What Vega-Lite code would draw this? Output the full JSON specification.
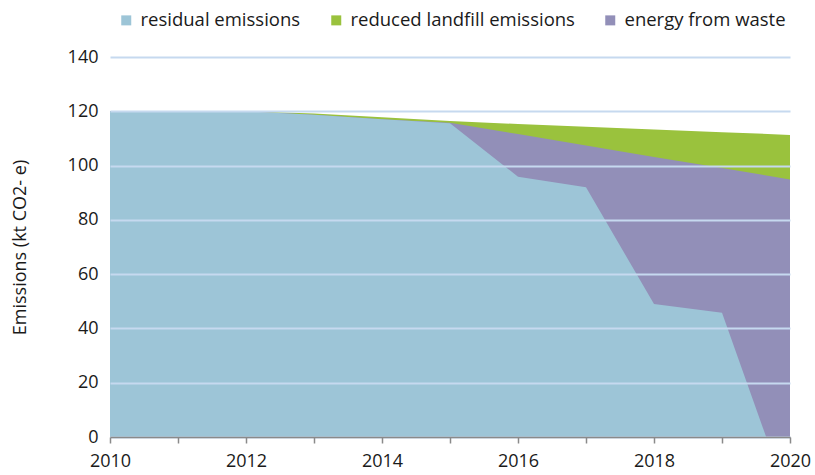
{
  "$schema": "https://vega.github.io/schema/vega-lite/v6.json",
  "width": 680,
  "height": 380,
  "autosize": {"type": "none"},
  "padding": {"left": 110, "top": 57, "right": 25, "bottom": 38},
  "background": "white",
  "config": {
    "font": "Open Sans",
    "view": {"stroke": null},
    "axis": {"labelFont": "Open Sans", "titleFont": "Open Sans", "labelColor": "#1a1a1a", "titleColor": "#1a1a1a"},
    "legend": {"labelFont": "Open Sans"}
  },
  "data": {
    "values": [
      {"year": 2010, "residual": 120, "energy": 120, "total": 120},
      {"year": 2011, "residual": 120, "energy": 120, "total": 120},
      {"year": 2012, "residual": 120, "energy": 120, "total": 120},
      {"year": 2013, "residual": 118.7, "energy": 118.7, "total": 119.2},
      {"year": 2014, "residual": 117.1, "energy": 117.1, "total": 117.8},
      {"year": 2015, "residual": 115.6, "energy": 115.8, "total": 116.4},
      {"year": 2016, "residual": 95.9, "energy": 111.6, "total": 115.3},
      {"year": 2017, "residual": 92.0, "energy": 107.4, "total": 114.3},
      {"year": 2018, "residual": 49.0, "energy": 103.2, "total": 113.3},
      {"year": 2019, "residual": 45.8, "energy": 99.1, "total": 112.3},
      {"year": 2020, "residual": -24.7, "energy": 94.9, "total": 111.3}
    ]
  },
  "encoding": {
    "x": {
      "field": "year",
      "type": "quantitative",
      "scale": {"domain": [2010, 2020], "nice": false, "zero": false},
      "axis": {
        "title": null,
        "values": [2010, 2011, 2012, 2013, 2014, 2015, 2016, 2017, 2018, 2019, 2020],
        "labelExpr": "datum.value % 2 == 0 ? format(datum.value, 'd') : ''",
        "labelFontSize": 18,
        "labelPadding": 9,
        "labelOverlap": false,
        "labelFlush": false,
        "grid": false,
        "domainColor": "#8a8a8a",
        "domainWidth": 1.5,
        "tickColor": "#8a8a8a",
        "tickWidth": 1.5,
        "tickSize": 6,
        "zindex": 2
      }
    }
  },
  "layer": [
    {
      "mark": {"type": "area", "clip": true},
      "encoding": {
        "y": {
          "field": "total",
          "type": "quantitative",
          "scale": {"domain": [0, 140], "nice": false},
          "axis": {
            "title": "Emissions (kt CO2- e)",
            "titleFontSize": 18,
            "titleFontWeight": "normal",
            "titlePadding": 38,
            "values": [0, 20, 40, 60, 80, 100, 120, 140],
            "labelFontSize": 18,
            "labelPadding": 12,
            "domain": false,
            "ticks": false,
            "grid": true,
            "gridColor": "#c6d9ef",
            "gridWidth": 2,
            "zindex": 1
          }
        },
        "color": {
          "datum": "reduced landfill emissions",
          "type": "nominal",
          "scale": {
            "domain": ["residual emissions", "reduced landfill emissions", "energy from waste"],
            "range": ["#9dc5d7", "#9ac23d", "#928fb8"]
          },
          "legend": {
            "title": null,
            "orient": "none",
            "legendX": 7,
            "legendY": -46,
            "direction": "horizontal",
            "symbolType": "square",
            "symbolSize": 100,
            "symbolStrokeWidth": 0,
            "labelFontSize": 18.5,
            "labelColor": "#1a1a1a",
            "labelOffset": 5,
            "columnPadding": 26,
            "labelLimit": 400,
            "encode": {
              "symbols": {
                "update": {
                  "fill": {"signal": "datum.value == 'energy from waste' ? '#b9a3cf' : scale('color', datum.value)"},
                  "opacity": {"value": 1}
                }
              }
            }
          }
        }
      }
    },
    {
      "mark": {"type": "area", "clip": true},
      "encoding": {
        "y": {"field": "energy", "type": "quantitative"},
        "color": {"datum": "energy from waste", "type": "nominal"}
      }
    },
    {
      "mark": {"type": "area", "clip": true},
      "encoding": {
        "y": {"field": "residual", "type": "quantitative"},
        "color": {"datum": "residual emissions", "type": "nominal"}
      }
    }
  ]
}
